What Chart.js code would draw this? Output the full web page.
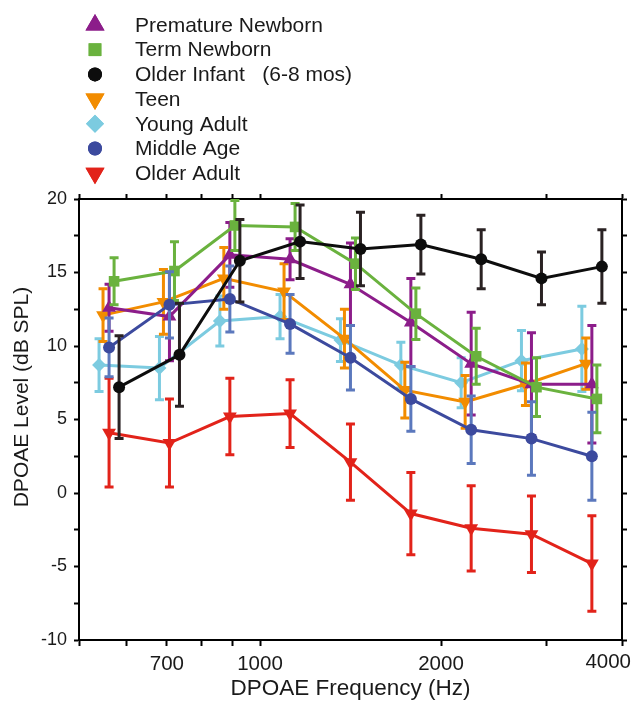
<!DOCTYPE html>
<html>
<head>
<meta charset="utf-8">
<script src="https://cdn.jsdelivr.net/npm/chart.js@4.4.0/dist/chart.umd.min.js"></script>
<style>
  html, body { margin: 0; padding: 0; background: #fff; }
  #wrap { width: 633px; height: 702px; }
</style>
</head>
<body>
<div id="wrap"><canvas id="chart" width="633" height="702"></canvas></div>
<script>
// ---------------- DATA ----------------
const freqs = [561, 707, 891, 1122, 1414, 1782, 2245, 2828, 3564];
const xTicks = [500, 600, 700, 800, 900, 1000, 2000, 3000, 4000];
const xLabels = [700, 1000, 2000];
const groups = ['Premature Newborn', 'Term Newborn', 'Older Infant   (6-8 mos)', 'Teen', 'Young Adult', 'Middle Age', 'Older Adult'];

const premature    = [12.6, 12.0, 16.2, 15.9, 14.2, 11.6, 8.8, 7.4, 7.4];
const prematureErr = [1.6, 3.0, 2.2, 1.4, 2.8, 3.0, 3.5, 3.5, 4.0];
const termNewborn    = [14.4, 15.1, 18.2, 18.1, 15.6, 12.2, 9.3, 7.2, 6.4];
const termNewbornErr = [1.6, 2.0, 1.7, 1.6, 1.75, 1.75, 1.9, 2.0, 2.3];
const olderInfant    = [7.2, 9.4, 15.8, 17.1, 16.6, 16.9, 15.9, 14.6, 15.4];
const olderInfantErr = [3.5, 3.5, 2.8, 2.5, 2.5, 2.0, 2.0, 1.8, 2.5];
const teen    = [12.1, 13.0, 14.6, 13.7, 10.5, 7.0, 6.2, 7.4, 8.8];
const teenErr = [1.8, 2.2, 2.1, 1.9, 2.0, 1.9, 1.8, 1.45, 1.75];
const youngAdult    = [8.7, 8.5, 11.7, 12.0, 10.4, 8.7, 7.5, 9.0, 9.8];
const youngAdultErr = [1.8, 2.15, 1.7, 1.5, 1.45, 1.55, 1.7, 2.05, 2.9];
const middleAge    = [9.9, 12.8, 13.2, 11.5, 9.2, 6.4, 4.3, 3.7, 2.5];
const middleAgeErr = [2.0, 2.25, 2.25, 2.0, 2.2, 2.2, 2.3, 2.5, 3.0];
const olderAdult    = [4.1, 3.4, 5.2, 5.4, 2.1, -1.4, -2.4, -2.8, -4.8];
const olderAdultErr = [3.7, 3.0, 2.6, 2.3, 2.6, 2.8, 2.9, 2.6, 3.25];

// horizontal shift of each group (multiplier on frequency) so the bars don't overlap
const shifts = [1.0, 1.0194, 1.0391, 0.9772, 0.9624, 1.0, 1.0];

const FONT = "'Liberation Sans', Arial, Helvetica, sans-serif";

// ---------------- STYLES ----------------
const series = [
  { values: premature,   errs: prematureErr,   color: '#8c1d8a', bar: '#8c1d8a', style: 'triangle', rot: 0,   r: 8,   lr: 11, order: 4 },
  { values: termNewborn, errs: termNewbornErr, color: '#6ab23e', bar: '#6ab23e', style: 'rect',     rot: 0,   r: 7.5, lr: 9,  order: 3 },
  { values: olderInfant, errs: olderInfantErr, color: '#0d0d0d', bar: '#2a2223', style: 'circle',   rot: 0,   r: 6,   lr: 7,  order: 1 },
  { values: teen,        errs: teenErr,        color: '#f28c00', bar: '#f28c00', style: 'triangle', rot: 180, r: 8,   lr: 11, order: 5 },
  { values: youngAdult,  errs: youngAdultErr,  color: '#7ccbe0', bar: '#7ccbe0', style: 'rectRot',  rot: 0,   r: 7,   lr: 9,  order: 6 },
  { values: middleAge,   errs: middleAgeErr,   color: '#3c4a9e', bar: '#5b78bd', style: 'circle',   rot: 0,   r: 6,   lr: 7,  order: 2 },
  { values: olderAdult,  errs: olderAdultErr,  color: '#e2231a', bar: '#e2231a', style: 'triangle', rot: 180, r: 8,   lr: 11, order: 7 }
];

const datasets = series.map((s, i) => ({
  label: groups[i],
  data: freqs.map((f, j) => ({ x: f * shifts[i], y: s.values[j] })),
  errs: s.errs,
  barColor: s.bar,
  borderColor: s.color,
  backgroundColor: s.color,
  borderWidth: 3,
  pointStyle: s.style,
  rotation: s.rot,
  pointRadius: s.r,
  pointBorderWidth: 0,
  order: s.order,
  tension: 0
}));

// ---------------- ERROR BARS ----------------
const errorBars = {
  id: 'errorBars',
  beforeDatasetDraw(chart, args) {
    const ds = chart.data.datasets[args.index];
    const yScale = chart.scales.y;
    const ctx = chart.ctx;
    ctx.save();
    ctx.strokeStyle = ds.barColor;
    ctx.lineWidth = 3;
    ctx.lineCap = 'butt';
    args.meta.data.forEach((pt, j) => {
      const v = ds.data[j].y;
      const e = ds.errs[j];
      const top = yScale.getPixelForValue(v + e);
      const bot = yScale.getPixelForValue(v - e);
      ctx.beginPath();
      ctx.moveTo(pt.x, top);
      ctx.lineTo(pt.x, bot);
      ctx.moveTo(pt.x - 4.5, top);
      ctx.lineTo(pt.x + 4.5, top);
      ctx.moveTo(pt.x - 4.5, bot);
      ctx.lineTo(pt.x + 4.5, bot);
      ctx.stroke();
    });
    ctx.restore();
  }
};

// ---------------- LEGEND + EXTRA TEXT ----------------
const decor = {
  id: 'decor',
  afterDraw(chart) {
    const ctx = chart.ctx;
    ctx.save();
    // legend
    ctx.font = `21px ${FONT}`;
    ctx.textBaseline = 'middle';
    ctx.textAlign = 'left';
    series.forEach((s, i) => {
      const y = 25 + i * 24.7;
      ctx.fillStyle = s.color;
      Chart.helpers.drawPoint(ctx, { pointStyle: s.style, rotation: s.rot, radius: s.lr, borderWidth: 0 }, 95, y);
      ctx.fill();
      ctx.fillStyle = '#1a1a1a';
      ctx.fillText(groups[i], 135, y + 1);
    });
    // last x tick label, pulled inside the canvas
    ctx.font = `20.5px ${FONT}`;
    ctx.textAlign = 'right';
    ctx.fillText('4000', 631, 662);
    // y axis title
    ctx.translate(22, 397);
    ctx.rotate(-Math.PI / 2);
    ctx.textAlign = 'center';
    ctx.font = `21px ${FONT}`;
    ctx.fillText('DPOAE Level (dB SPL)', 0, 0);
    ctx.restore();
  }
};

const setXTicks = (scale) => { scale.ticks = xTicks.map(v => ({ value: v })); };

const chart = new Chart(document.getElementById('chart').getContext('2d'), {
  type: 'line',
  data: { datasets },
  options: {
    responsive: false,
    animation: false,
    devicePixelRatio: 1,
    layout: { padding: { top: 193, right: 5, bottom: 0, left: 0 } },
    plugins: {
      legend: { display: false },
      tooltip: { enabled: false },
      title: { display: false }
    },
    scales: {
      x: {
        type: 'logarithmic',
        position: 'bottom',
        min: 500,
        max: 4000,
        afterBuildTicks: setXTicks,
        afterFit(scale) { scale.height = 62; scale.paddingLeft = 0; scale.paddingRight = 0; },
        ticks: {
          autoSkip: false,
          maxRotation: 0,
          padding: 6,
          color: '#1a1a1a',
          font: { family: FONT, size: 20.5 },
          callback: (v) => xLabels.includes(v) ? String(v) : ''
        },
        grid: { drawOnChartArea: false, drawTicks: true, tickLength: 6, tickWidth: 2, tickColor: '#000' },
        border: { display: true, color: '#000', width: 2 },
        title: { display: true, text: 'DPOAE Frequency (Hz)', color: '#1a1a1a', font: { family: FONT, size: 22.5 }, padding: { top: 0, bottom: 0 } }
      },
      x2: {
        type: 'logarithmic',
        position: 'top',
        min: 500,
        max: 4000,
        afterBuildTicks: setXTicks,
        afterFit(scale) { scale.height = 6; scale.paddingLeft = 0; scale.paddingRight = 0; },
        ticks: { display: false },
        grid: { drawOnChartArea: false, drawTicks: true, tickLength: 5, tickWidth: 2, tickColor: '#000' },
        border: { display: true, color: '#000', width: 2 }
      },
      y: {
        position: 'left',
        min: -10,
        max: 20,
        afterFit(scale) { scale.width = 79; scale.paddingTop = 0; scale.paddingBottom = 0; },
        ticks: {
          stepSize: 2.5,
          padding: 7,
          color: '#1a1a1a',
          font: { family: FONT, size: 18 },
          callback: (v) => v % 5 === 0 ? String(v) : ''
        },
        grid: { drawOnChartArea: false, drawTicks: true, tickLength: 5, tickWidth: 2, tickColor: '#000' },
        border: { display: true, color: '#000', width: 2 }
      },
      y2: {
        position: 'right',
        min: -10,
        max: 20,
        afterFit(scale) { scale.width = 6; scale.paddingTop = 0; scale.paddingBottom = 0; },
        ticks: { display: false, stepSize: 2.5 },
        grid: { drawOnChartArea: false, drawTicks: true, tickLength: 5, tickWidth: 2, tickColor: '#000' },
        border: { display: true, color: '#000', width: 2 }
      }
    }
  },
  plugins: [errorBars, decor]
});
</script>
</body>
</html>
